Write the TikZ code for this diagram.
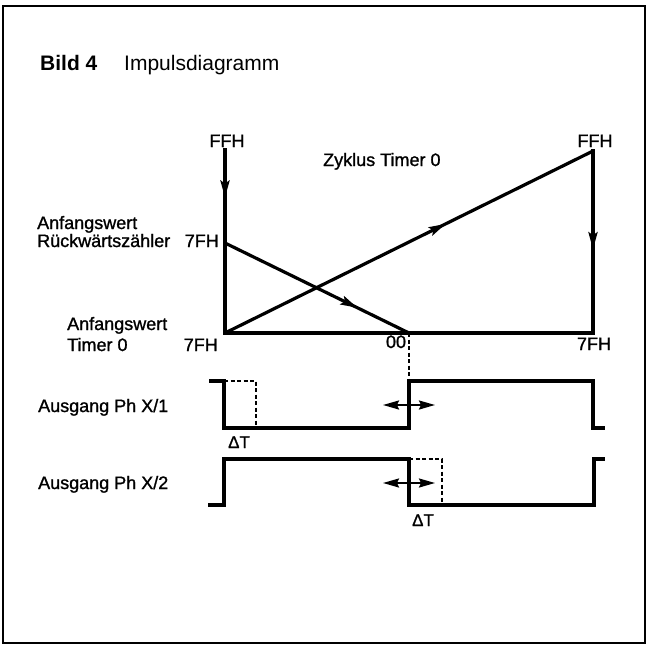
\documentclass[tikz,border=0pt]{standalone}
\usepackage{fontspec}
\setmainfont{Liberation Sans}
\newfontfamily\dinfont[FakeBold=1.2]{Liberation Sans}
\usetikzlibrary{arrows.meta,decorations.markings}
\begin{document}
\begin{tikzpicture}[x=1pt,y=-1pt,
  thickline/.style={line width=3.2pt, line cap=rect},
  sig/.style={line width=3.2pt, line join=miter},
  dashline/.style={line width=1.5pt, dash pattern=on 4pt off 2.5pt},
  lbl/.style={font=\dinfont\fontsize{18}{20}\selectfont, inner sep=0pt},
  dlbl/.style={font=\dinfont\fontsize{17}{18}\selectfont, inner sep=0pt},
  ttl/.style={font=\fontsize{21}{24}\selectfont, inner sep=0pt},
  midarrow/.style={postaction={decorate}, decoration={markings, mark=at position #1 with {\arrow{Stealth[length=17pt,width=9pt,inset=3pt]}}}},
  dblarrow/.style={line width=2pt, arrows={Stealth[length=16pt,width=9pt,inset=2pt]-Stealth[length=16pt,width=9pt,inset=2pt]}}
]
\useasboundingbox (0,0) rectangle (648,645);
\draw[line width=2pt] (3,6) rectangle (645,643);

% title
\node[ttl, anchor=base west, font=\fontsize{21}{24}\selectfont\bfseries] (t1) at (40,70) {Bild 4};
\node[ttl, anchor=base west] (t2) at (124,70) {Impulsdiagramm};

% counter diagram
\coordinate (Atop) at (225,150);
\coordinate (A7) at (225,243);
\coordinate (A0) at (225,333);
\coordinate (Z) at (409,333);
\coordinate (B) at (593,333);
\coordinate (Btop) at (593,151);

\draw[thickline, midarrow=0.26] (Atop) -- (A0);
\draw[thickline] (A0) -- (B);
\draw[thickline, midarrow=0.54] (Btop) -- (B);
\draw[thickline, line cap=round, midarrow=0.6] (A0) -- (Btop);
\draw[thickline, line cap=round, midarrow=0.72] (A7) -- (Z);

\node[lbl, anchor=base] (ffh1) at (227,147) {FFH};
\node[lbl, anchor=base] (ffh2) at (595,147) {FFH};
\node[lbl, anchor=base west] (zyk) at (323,166) {Zyklus Timer 0};
\node[lbl, anchor=base west] (aw1) at (37,229) {Anfangswert};
\node[lbl, anchor=base west] (rz) at (37,247) {Rückwärtszähler};
\node[lbl, anchor=base east] (s7a) at (219,247) {7FH};
\node[lbl, anchor=base west] (aw2) at (67,330) {Anfangswert};
\node[lbl, anchor=base west] (tm) at (67,351) {Timer 0};
\node[lbl, anchor=base east] (s7b) at (218,351) {7FH};
\node[lbl, anchor=base] (n00) at (396,348) {00};
\node[lbl, anchor=base] (s7c) at (594,350) {7FH};

% signal X/1
\coordinate (s1a) at (209,381);
\coordinate (s1b) at (224,381);
\coordinate (s1c) at (224,428);
\coordinate (s1d) at (409,428);
\coordinate (s1e) at (409,381);
\coordinate (s1f) at (593,381);
\coordinate (s1g) at (593,428);
\coordinate (s1h) at (605,428);
\coordinate (d1a) at (256,381);
\coordinate (d1b) at (256,428);
\draw[dashline] (Z) -- (s1e);
\draw[dashline] (s1b) -- (d1a) -- (d1b);
\draw[sig] (s1a) -- (s1b) -- (s1c) -- (s1d) -- (s1e) -- (s1f) -- (s1g) -- (s1h);

% signal X/2
\coordinate (s2a) at (208,505);
\coordinate (s2b) at (224,505);
\coordinate (s2c) at (224,459);
\coordinate (s2d) at (409,459);
\coordinate (s2e) at (409,505);
\coordinate (s2f) at (594,505);
\coordinate (s2g) at (594,459);
\coordinate (s2h) at (605,459);
\coordinate (d2a) at (442,459);
\coordinate (d2b) at (442,505);
\draw[dashline] (s2d) -- (d2a) -- (d2b);
\draw[sig] (s2a) -- (s2b) -- (s2c) -- (s2d) -- (s2e) -- (s2f) -- (s2g) -- (s2h);

% double arrows
\coordinate (da1l) at (383,405);
\coordinate (da1r) at (435,405);
\coordinate (da2l) at (383,483);
\coordinate (da2r) at (435,483);
\draw[dblarrow] (da1l) -- (da1r);
\draw[dblarrow] (da2l) -- (da2r);

\node[lbl, anchor=base west] (o1) at (38,412) {Ausgang Ph X/1};
\node[lbl, anchor=base west] (o2) at (38,489) {Ausgang Ph X/2};
\node[dlbl, anchor=base] (dt1) at (239,448) {ΔT};
\node[dlbl, anchor=base] (dt2) at (423,526) {ΔT};
\end{tikzpicture}
\end{document}
